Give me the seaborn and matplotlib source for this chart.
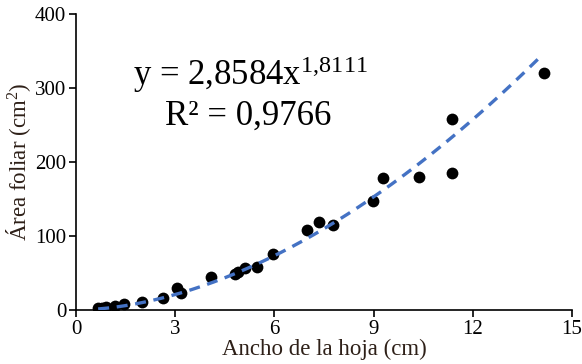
import numpy as np
import pandas as pd
import matplotlib
matplotlib.use("Agg")
import matplotlib.pyplot as plt
import seaborn as sns

# Data
ancho = [0.67, 0.8, 0.9, 1.18, 1.45, 2.0, 2.63, 3.05, 3.17, 4.08, 4.8, 4.9,
         5.1, 5.47, 5.96, 6.98, 7.35, 7.77, 8.98, 9.28, 10.37, 11.37, 11.37, 14.15]
area = [2.5, 2.8, 3.5, 5, 8, 11, 16, 30, 23, 45, 49, 52,
        57, 58, 76, 108, 119, 115, 147, 178, 180, 185, 258, 320]

coef_a = 2.8584
coef_b = 1.8111
r2_text = "0,9766"
x_ticks = [0, 3, 6, 9, 12, 15]
y_ticks = [0, 100, 200, 300, 400]

sns.set_theme(style="ticks")
plt.rcParams["font.family"] = ["Liberation Serif", "DejaVu Serif"]
plt.rcParams["mathtext.fontset"] = "custom"
plt.rcParams["mathtext.rm"] = "Liberation Serif"
plt.rcParams["mathtext.it"] = "Liberation Serif:italic"

df = pd.DataFrame({"x": ancho, "y": area})
xfit = np.linspace(min(ancho), 14.05, 200)
fit = pd.DataFrame({"x": xfit, "y": coef_a * xfit ** coef_b})

fig = plt.figure(figsize=(5.82, 3.64), dpi=100)
ax = fig.add_axes([76 / 582, 1 - 310 / 364, 496 / 582, 296 / 364])

sns.scatterplot(data=df, x="x", y="y", ax=ax, color="black", s=72,
                edgecolor="black", linewidth=0, zorder=2)
sns.lineplot(data=fit, x="x", y="y", ax=ax, color="#4472C4", linewidth=2.4,
             dashes=False, zorder=3)
ax.lines[-1].set_dashes([3.3, 2.3])

ax.set_xlim(0, 15)
ax.set_ylim(0, 400)
ax.set_xticks(x_ticks)
ax.set_yticks(y_ticks)
ax.tick_params(axis="both", direction="out", length=5, width=1.2,
               labelsize=15, colors="black", pad=2)
for s in ["top", "right"]:
    ax.spines[s].set_visible(False)
for s in ["left", "bottom"]:
    ax.spines[s].set_linewidth(1.2)
    ax.spines[s].set_color("black")

lab_col = "#2e2018"
ax.set_xlabel("Ancho de la hoja (cm)", fontsize=16.5, color=lab_col)
ax.set_ylabel("Área foliar (cm$^{2}$)", fontsize=16.5, color=lab_col)
ax.xaxis.set_label_coords(0.5, -0.098)
ax.yaxis.set_label_coords(-0.086, 0.5)

ax.text((250 - 76) / 496, (310 - 85) / 296,
        r"y = 2,8584x$^{\mathrm{1{,}8111}}$", transform=ax.transAxes,
        ha="center", va="baseline", fontsize=25, color="black")
ax.text((248 - 76) / 496, (310 - 125) / 296,
        "R² = " + r2_text, transform=ax.transAxes,
        ha="center", va="baseline", fontsize=25, color="black")

fig.savefig("out.png", dpi=100)
